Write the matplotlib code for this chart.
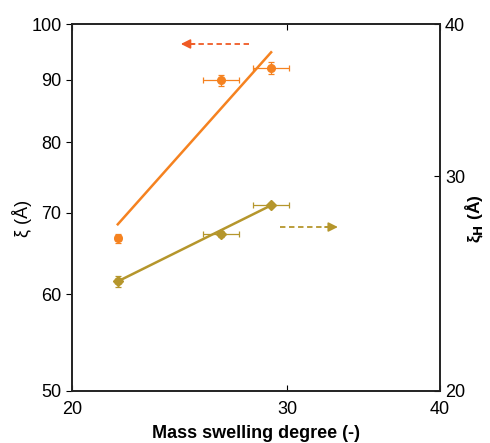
import matplotlib.pyplot as plt
from matplotlib.ticker import NullLocator, FixedLocator, FixedFormatter

plt.rcParams['font.family'] = ['Liberation Sans', 'DejaVu Sans']

# data
swell = [21.8, 26.5, 29.1]
swell_err = [0.12, 0.9, 1.0]
xi = [66.7, 89.9, 92.0]
xi_err = [0.6, 1.0, 1.0]
xi_h = [24.6, 26.9, 28.4]
xi_h_err = [0.25, 0.15, 0.1]

fit_x = [21.8, 29.1]
xi_fit = [68.5, 94.8]
xi_h_fit = [24.6, 28.4]

orange = '#F58220'
arrow_orange = '#EF5B25'
gold = '#B5962C'

fig = plt.figure(figsize=(4.9, 4.43), dpi=100)
ax = fig.add_axes([0.147, 0.1174, 0.751, 0.8284])
ax2 = ax.twinx()

ax.set_xscale('log')
ax.set_yscale('log')
ax2.set_yscale('log')
ax.set_xlim(20, 40)
ax.set_ylim(50, 100)
ax2.set_ylim(20, 40)

ax.plot(fit_x, xi_fit, color=orange, lw=1.8)
ax.errorbar(swell, xi, xerr=swell_err, yerr=xi_err, fmt='o', color=orange,
            ms=5.5, elinewidth=0.9, capsize=2, capthick=0.9)

ax2.plot(fit_x, xi_h_fit, color=gold, lw=1.8)
ax2.errorbar(swell, xi_h, xerr=swell_err, yerr=xi_h_err, fmt='D', color=gold,
             ms=5, elinewidth=0.9, capsize=2, capthick=0.9)

# direction arrows
ax.plot([27.9, 24.9], [96.3, 96.3], color=arrow_orange, lw=1.3, ls=(0, (3, 2)))
ax.annotate('', xy=(24.55, 96.3), xytext=(25.2, 96.3),
            arrowprops=dict(arrowstyle='-|>', color=arrow_orange, lw=1.2,
                            mutation_scale=14, shrinkA=0, shrinkB=0))
ax2.plot([29.6, 32.4], [27.26, 27.26], color=gold, lw=1.3, ls=(0, (3, 2)))
ax2.annotate('', xy=(33.0, 27.26), xytext=(32.2, 27.26),
             arrowprops=dict(arrowstyle='-|>', color=gold, lw=1.2,
                             mutation_scale=14, shrinkA=0, shrinkB=0))

ax.xaxis.set_major_locator(FixedLocator([20, 30, 40]))
ax.xaxis.set_major_formatter(FixedFormatter(['20', '30', '40']))
ax.xaxis.set_minor_locator(NullLocator())
ax.yaxis.set_major_locator(FixedLocator([50, 60, 70, 80, 90, 100]))
ax.yaxis.set_major_formatter(FixedFormatter(['50', '60', '70', '80', '90', '100']))
ax.yaxis.set_minor_locator(NullLocator())
ax2.yaxis.set_major_locator(FixedLocator([20, 30, 40]))
ax2.yaxis.set_major_formatter(FixedFormatter(['20', '30', '40']))
ax2.yaxis.set_minor_locator(NullLocator())

ax.tick_params(axis='x', direction='in', top=True, length=4, labelsize=13, pad=7)
ax.tick_params(axis='y', direction='out', length=4, labelsize=13)
ax2.tick_params(axis='y', direction='in', length=4, labelsize=13)
for a in (ax, ax2):
    for s in a.spines.values():
        s.set_linewidth(1.2)
        s.set_color('#222222')

ax.set_xlabel('Mass swelling degree (-)', fontsize=13, fontweight='bold')
ax.xaxis.set_label_coords(0.5, -0.093)
ax.set_ylabel('ξ (Å)', fontsize=13)
ax.yaxis.set_label_coords(-0.11, 0.47)
ax2.set_ylabel(r'ξ$_\mathbf{H}$ (Å)', fontsize=12.5, fontweight='bold')
ax2.yaxis.set_label_coords(1.062, 0.47)

fig.savefig('out.png')
